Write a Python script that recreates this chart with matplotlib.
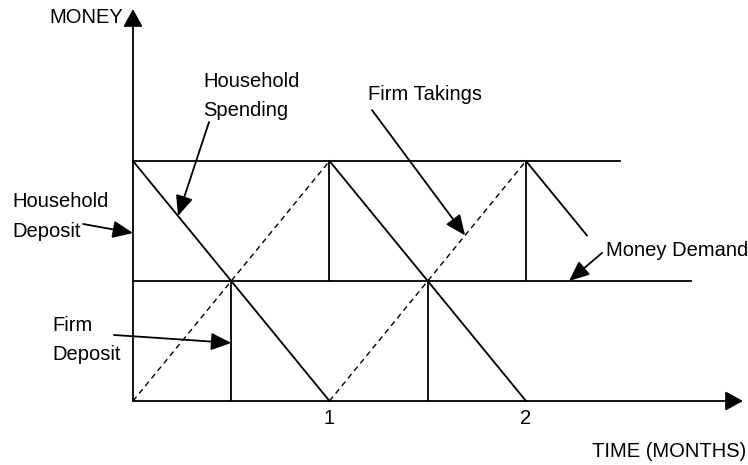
import numpy as np
import matplotlib
matplotlib.use("Agg")
import matplotlib.pyplot as plt

plt.rcParams["font.family"] = ["Liberation Sans", "DejaVu Sans"]

# sawtooth of household money (solid) and firm takings (dashed), in months / money units
nan = np.nan
spend_x = [0, 1, nan, 1, 2, nan, 2, 2.31]
spend_y = [1, 0, nan, 1, 0, nan, 1, 0.69]
takings_x = [0, 1, nan, 1, 2]
takings_y = [0, 1, nan, 0, 1]

# vertical markers
vert_x = [0.5, 1, 1.5, 2]
vert_lo = [0, 0.5, 0, 0.5]
vert_hi = [0.5, 1, 0.5, 1]

# horizontal levels: household deposit and money demand
levels = [1.0, 0.5]
level_end = [2.48, 2.84]

month_ticks = [1, 2]
month_labels = ["1", "2"]

FS = 14.5
LW = 1.3

fig = plt.figure(figsize=(7.48, 4.65), dpi=100)
ax = fig.add_axes([0, 0, 1, 1])
ax.set_xlim(-0.6768, 3.1298)
ax.set_ylim(-0.2667, 1.6708)
ax.axis("off")

axis_arrow = dict(arrowstyle="-|>,head_length=0.6,head_width=0.33",
                  mutation_scale=18, lw=LW, color="black",
                  shrinkA=0, shrinkB=0)
ax.annotate("", xy=(0, 1.633), xytext=(0, 0), arrowprops=axis_arrow)
ax.annotate("", xy=(3.104, 0), xytext=(0, 0), arrowprops=axis_arrow)

for lev, end in zip(levels, level_end):
    ax.plot([0, end], [lev, lev], color="black", lw=LW)

ax.plot(spend_x, spend_y, color="black", lw=LW)
ax.plot(takings_x, takings_y, color="black", lw=1.0, linestyle=(0, (4, 3)))
ax.vlines(vert_x, vert_lo, vert_hi, color="black", lw=LW)

for t, lab in zip(month_ticks, month_labels):
    ax.text(t, -0.071, lab, ha="center", va="center", fontsize=FS)

ax.text(-0.051, 1.596, "MONEY", ha="right", va="center", fontsize=FS)
ax.text(3.12, -0.2125, "TIME (MONTHS)", ha="right", va="center", fontsize=FS)

label_arrow = dict(arrowstyle="-|>,head_length=0.65,head_width=0.28",
                   mutation_scale=19, lw=LW, color="black",
                   shrinkA=0, shrinkB=0)

labels = [
    ("Household\nSpending", (0.356, 1.271), (0.387, 1.1625), (0.229, 0.771)),
    ("Firm Takings", (1.196, 1.275), (1.216, 1.2125), (1.69, 0.69)),
    ("Household\nDeposit", (-0.616, 0.769), (-0.254, 0.7375), (0, 0.70)),
    ("Money Demand", (2.407, 0.629), (2.387, 0.617), (2.219, 0.5)),
    ("Firm\nDeposit", (-0.412, 0.254), (-0.097, 0.275), (0.5, 0.242)),
]
for text, pos, start, tip in labels:
    ax.text(pos[0], pos[1], text, ha="left", va="center", fontsize=FS,
            linespacing=1.72)
    ax.annotate("", xy=tip, xytext=start, arrowprops=label_arrow)

fig.savefig("out.png", dpi=100)
